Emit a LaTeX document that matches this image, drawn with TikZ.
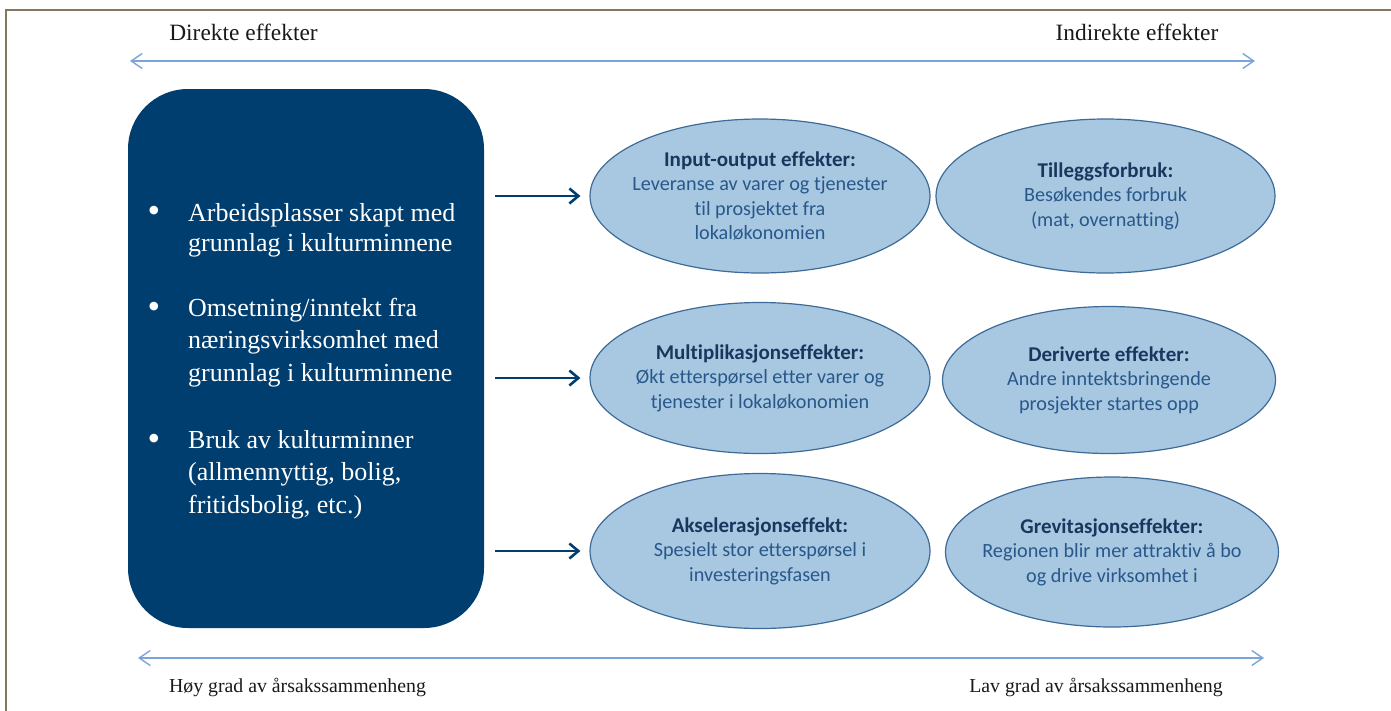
\documentclass[tikz,border=0pt]{standalone}
\usepackage{fontspec}
\setmainfont{Liberation Serif}
\newfontfamily\carl[Ligatures=NoCommon]{Carlito}
\usetikzlibrary{arrows.meta,shapes.geometric}
\definecolor{navy}{RGB}{1,62,112}
\definecolor{ellfill}{RGB}{168,200,226}
\definecolor{elldraw}{RGB}{62,106,152}
\definecolor{ttl}{RGB}{23,55,94}
\definecolor{bodyc}{RGB}{40,88,138}
\definecolor{axisc}{RGB}{124,164,216}
\definecolor{framec}{RGB}{135,118,95}
\definecolor{labc}{RGB}{25,25,25}
\newcommand{\ttlfont}{\fontsize{21pt}{24.5pt}\selectfont\bfseries\color{ttl}}
\begin{document}
\begin{tikzpicture}[x=1pt,y=-1pt,
  ell/.style={ellipse, draw=elldraw, fill=ellfill, line width=1.2pt, inner sep=0pt},
  etext/.style={align=center, text=bodyc, inner sep=0pt, font=\carl\fontsize{20.2pt}{24.5pt}\selectfont},
  btext/.style={anchor=base west, text=white, inner sep=0pt, font=\fontsize{26pt}{30pt}\selectfont},
  bul/.style={anchor=base, text=white, inner sep=0pt, font=\fontsize{36pt}{40pt}\selectfont},
  toplab/.style={anchor=base, text=labc, inner sep=0pt, font=\fontsize{23.4pt}{26pt}\selectfont},
  botlab/.style={anchor=base, text=labc, inner sep=0pt, font=\fontsize{19.8pt}{24pt}\selectfont},
  axisarrow/.style={draw=axisc, line width=1.4pt, {Straight Barb[length=11pt,width=15pt]}-{Straight Barb[length=11pt,width=15pt]}},
  conn/.style={draw=navy, line width=2.6pt, -{Straight Barb[length=9pt,width=15pt]}}]
\useasboundingbox (0,0) rectangle (1391,710);
% frame
\draw[framec, line width=2.6pt] (6,712) -- (6,10) -- (1393,10);
% top axis
\coordinate (tl) at (130,61);
\coordinate (tr) at (1255,61);
\draw[axisarrow] (tl) -- (tr);
\node[toplab] (dir) at (243.5,40.5) {Direkte effekter};
\node[toplab] (indir) at (1137,40.5) {Indirekte effekter};
% bottom axis
\coordinate (bl) at (138,658);
\coordinate (br) at (1264,658);
\draw[axisarrow] (bl) -- (br);
\node[botlab] (hoy) at (297.5,692.5) {Høy grad av årsakssammenheng};
\node[botlab] (lav) at (1096,692.5) {Lav grad av årsakssammenheng};
% big box
\node[fill=navy, rounded corners=60pt, minimum width=356pt, minimum height=539pt, inner sep=0pt] (box) at (306,358.5) {};
\node[bul] (b1) at (154,222.6) {•};
\node[btext] (l11) at (188,221.7) {Arbeidsplasser skapt med};
\node[btext] (l12) at (188,251.5) {grunnlag i kulturminnene};
\node[bul] (b2) at (154,318.6) {•};
\node[btext] (l21) at (188,316.7) {Omsetning/inntekt fra};
\node[btext] (l22) at (188,348.7) {næringsvirksomhet med};
\node[btext] (l23) at (188,381.3) {grunnlag i kulturminnene};
\node[bul] (b3) at (154,450) {•};
\node[btext] (l31) at (188,448) {Bruk av kulturminner};
\node[btext] (l32) at (188,480.8) {(allmennyttig, bolig,};
\node[btext] (l33) at (188,513.3) {fritidsbolig, etc.)};
% ellipses
\node[ell, minimum width=340pt, minimum height=154pt] (e1) at (760,196) {};
\node[ell, minimum width=339pt, minimum height=154pt] (e2) at (1105.5,196) {};
\node[ell, minimum width=340pt, minimum height=151pt] (e3) at (760,378) {};
\node[ell, minimum width=333pt, minimum height=147pt] (e4) at (1109,380) {};
\node[ell, minimum width=340pt, minimum height=155pt] (e5) at (760,551) {};
\node[ell, minimum width=333pt, minimum height=150pt] (e6) at (1112,552) {};
\node[etext] (t1) at (e1.center) {{\ttlfont Input-output effekter:}\\Leveranse av varer og tjenester\\til prosjektet fra\\lokaløkonomien};
\node[etext] (t2) at (e2.center) {{\ttlfont Tilleggsforbruk:}\\Besøkendes forbruk\\(mat, overnatting)};
\node[etext] (t3) at (e3.center) {{\ttlfont Multiplikasjonseffekter:}\\Økt etterspørsel etter varer og\\tjenester i lokaløkonomien};
\node[etext] (t4) at (e4.center) {{\ttlfont Deriverte effekter:}\\Andre inntektsbringende\\prosjekter startes opp};
\node[etext] (t5) at (e5.center) {{\ttlfont Akselerasjonseffekt:}\\Spesielt stor etterspørsel i\\investeringsfasen};
\node[etext] (t6) at (e6.center) {{\ttlfont Grevitasjonseffekter:}\\Regionen blir mer attraktiv å bo\\og drive virksomhet i};
% connectors
\draw[conn] ([xshift=11pt]box.east |- e1.center) -- ([xshift=-9pt]e1.west);
\draw[conn] ([xshift=11pt]box.east |- e3.center) -- ([xshift=-9pt]e3.west);
\draw[conn] ([xshift=11pt]box.east |- e5.center) -- ([xshift=-9pt]e5.west);
\end{tikzpicture}
\end{document}
